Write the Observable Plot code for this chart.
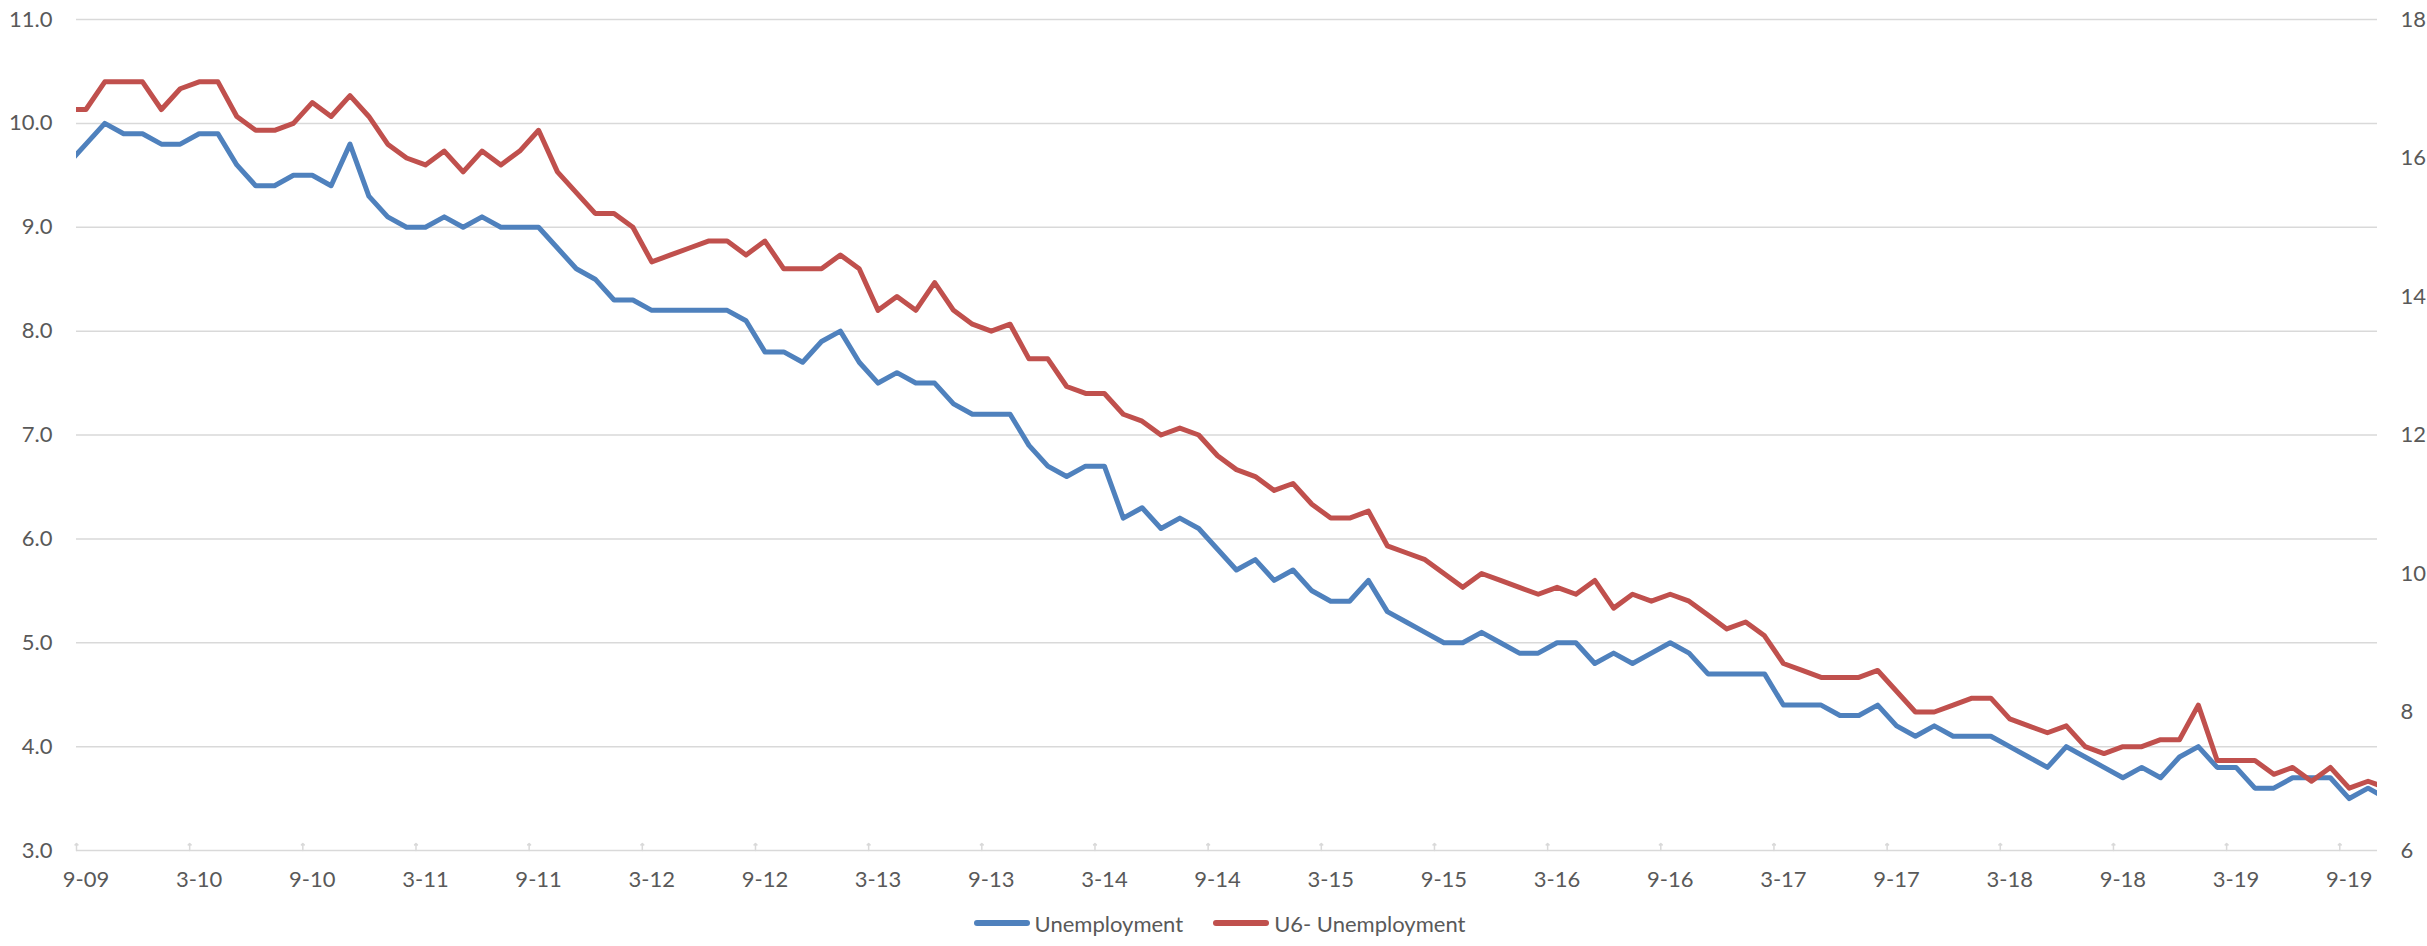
<!DOCTYPE html>
<html><head><meta charset="utf-8">
<script src="https://cdn.jsdelivr.net/npm/d3@7"></script>
<script src="https://cdn.jsdelivr.net/npm/@observablehq/plot@0.6"></script>
<style>
body{margin:0;background:#fff;}
#chart{width:2427px;}
.legend{display:flex;justify-content:center;align-items:center;height:46px;gap:30px;font:22px Lato, sans-serif;color:#595959;padding-left:12px;box-sizing:border-box;width:2427px;}
.item{display:flex;align-items:center;gap:5px}
.sw{width:56px;height:6px;border-radius:3px}
</style></head><body>
<div id="chart"></div>
<script>
// Monthly series, first value = Aug 2009 (index -1), Sep 2009 = index 0, last = Nov 2019
const unemployment = [
  9.6, 9.8, 10.0, 9.9, 9.9,
  9.8, 9.8, 9.9, 9.9, 9.6, 9.4, 9.4, 9.5, 9.5, 9.4, 9.8, 9.3,
  9.1, 9.0, 9.0, 9.1, 9.0, 9.1, 9.0, 9.0, 9.0, 8.8, 8.6, 8.5,
  8.3, 8.3, 8.2, 8.2, 8.2, 8.2, 8.2, 8.1, 7.8, 7.8, 7.7, 7.9,
  8.0, 7.7, 7.5, 7.6, 7.5, 7.5, 7.3, 7.2, 7.2, 7.2, 6.9, 6.7,
  6.6, 6.7, 6.7, 6.2, 6.3, 6.1, 6.2, 6.1, 5.9, 5.7, 5.8, 5.6,
  5.7, 5.5, 5.4, 5.4, 5.6, 5.3, 5.2, 5.1, 5.0, 5.0, 5.1, 5.0,
  4.9, 4.9, 5.0, 5.0, 4.8, 4.9, 4.8, 4.9, 5.0, 4.9, 4.7, 4.7,
  4.7, 4.7, 4.4, 4.4, 4.4, 4.3, 4.3, 4.4, 4.2, 4.1, 4.2, 4.1,
  4.1, 4.1, 4.0, 3.9, 3.8, 4.0, 3.9, 3.8, 3.7, 3.8, 3.7, 3.9,
  4.0, 3.8, 3.8, 3.6, 3.6, 3.7, 3.7, 3.7, 3.5, 3.6, 3.5
];
const u6 = [
  16.7, 16.7, 17.1, 17.1, 17.1,
  16.7, 17.0, 17.1, 17.1, 16.6, 16.4, 16.4, 16.5, 16.8, 16.6, 16.9, 16.6,
  16.2, 16.0, 15.9, 16.1, 15.8, 16.1, 15.9, 16.1, 16.4, 15.8, 15.5, 15.2,
  15.2, 15.0, 14.5, 14.6, 14.7, 14.8, 14.8, 14.6, 14.8, 14.4, 14.4, 14.4,
  14.6, 14.4, 13.8, 14.0, 13.8, 14.2, 13.8, 13.6, 13.5, 13.6, 13.1, 13.1,
  12.7, 12.6, 12.6, 12.3, 12.2, 12.0, 12.1, 12.0, 11.7, 11.5, 11.4, 11.2,
  11.3, 11.0, 10.8, 10.8, 10.9, 10.4, 10.3, 10.2, 10.0, 9.8, 10.0, 9.9,
  9.8, 9.7, 9.8, 9.7, 9.9, 9.5, 9.7, 9.6, 9.7, 9.6, 9.4, 9.2,
  9.3, 9.1, 8.7, 8.6, 8.5, 8.5, 8.5, 8.6, 8.3, 8.0, 8.0, 8.1,
  8.2, 8.2, 7.9, 7.8, 7.7, 7.8, 7.5, 7.4, 7.5, 7.5, 7.6, 7.6,
  8.1, 7.3, 7.3, 7.3, 7.1, 7.2, 7.0, 7.2, 6.9, 7.0, 6.9
];
const xTickLabels = ["9-09","3-10","9-10","3-11","9-11","3-12","9-12","3-13","9-13","3-14","9-14",
  "3-15","9-15","3-16","9-16","3-17","9-17","3-18","9-18","3-19","9-19"];
const leftTicks = [3, 4, 5, 6, 7, 8, 9, 10, 11];
const rightTicks = [6, 8, 10, 12, 14, 16, 18];
const seriesNames = ["Unemployment", "U6- Unemployment"];
const colors = ["#4F81BD", "#C0504D"];

// map right axis (6..18) onto left axis (3..11)
const toLeft = v => 3 + (v - 6) * 8 / 12;
const fromLeft = v => Math.round(6 + (v - 3) * 12 / 8);

const rows = [];
unemployment.forEach((v, i) => rows.push({m: i - 1, v, s: seriesNames[0]}));
u6.forEach((v, i) => rows.push({m: i - 1, v: toLeft(v), s: seriesNames[1]}));
const labelPos = xTickLabels.map((_, k) => 6 * k);
const boundaries = xTickLabels.map((_, k) => 6 * k - 0.5);

const plot = Plot.plot({
  width: 2427, height: 900,
  marginLeft: 76, marginRight: 50, marginTop: 19, marginBottom: 50,
  style: {fontFamily: "Lato, sans-serif", fontSize: "22px", color: "#595959", background: "#fff"},
  x: {domain: [-0.5, 121.5]},
  y: {domain: [3, 11]},
  color: {domain: seriesNames, range: colors},
  marks: [
    Plot.gridY(leftTicks, {stroke: "#d9d9d9", strokeOpacity: 1, strokeWidth: 1.5}),
    Plot.axisY(leftTicks, {anchor: "left", tickSize: 0, tickPadding: 24, tickFormat: d => d.toFixed(1), label: null}),
    Plot.axisY(rightTicks.map(toLeft), {anchor: "right", tickSize: 0, tickPadding: 23, tickFormat: d => String(fromLeft(d)), label: null}),
    Plot.axisX(labelPos, {anchor: "bottom", tickSize: 0, tickPadding: 21, tickFormat: d => xTickLabels[Math.round(d / 6)], label: null}),
    Plot.vector(boundaries, {x: d => d, y: () => 3, length: 7, anchor: "start", stroke: "#d9d9d9", strokeWidth: 1.5}),
    Plot.line(rows, {x: "m", y: "v", z: "s", stroke: "s", strokeWidth: 5, clip: true})
  ]
});
document.getElementById("chart").append(plot);

const legend = document.createElement("div");
legend.className = "legend";
seriesNames.forEach((n, i) => {
  const it = document.createElement("div");
  it.className = "item";
  const sw = document.createElement("span");
  sw.className = "sw";
  sw.style.background = colors[i];
  const t = document.createElement("span");
  t.textContent = n;
  it.append(sw, t);
  legend.append(it);
});
document.body.append(legend);
</script>
</body></html>
